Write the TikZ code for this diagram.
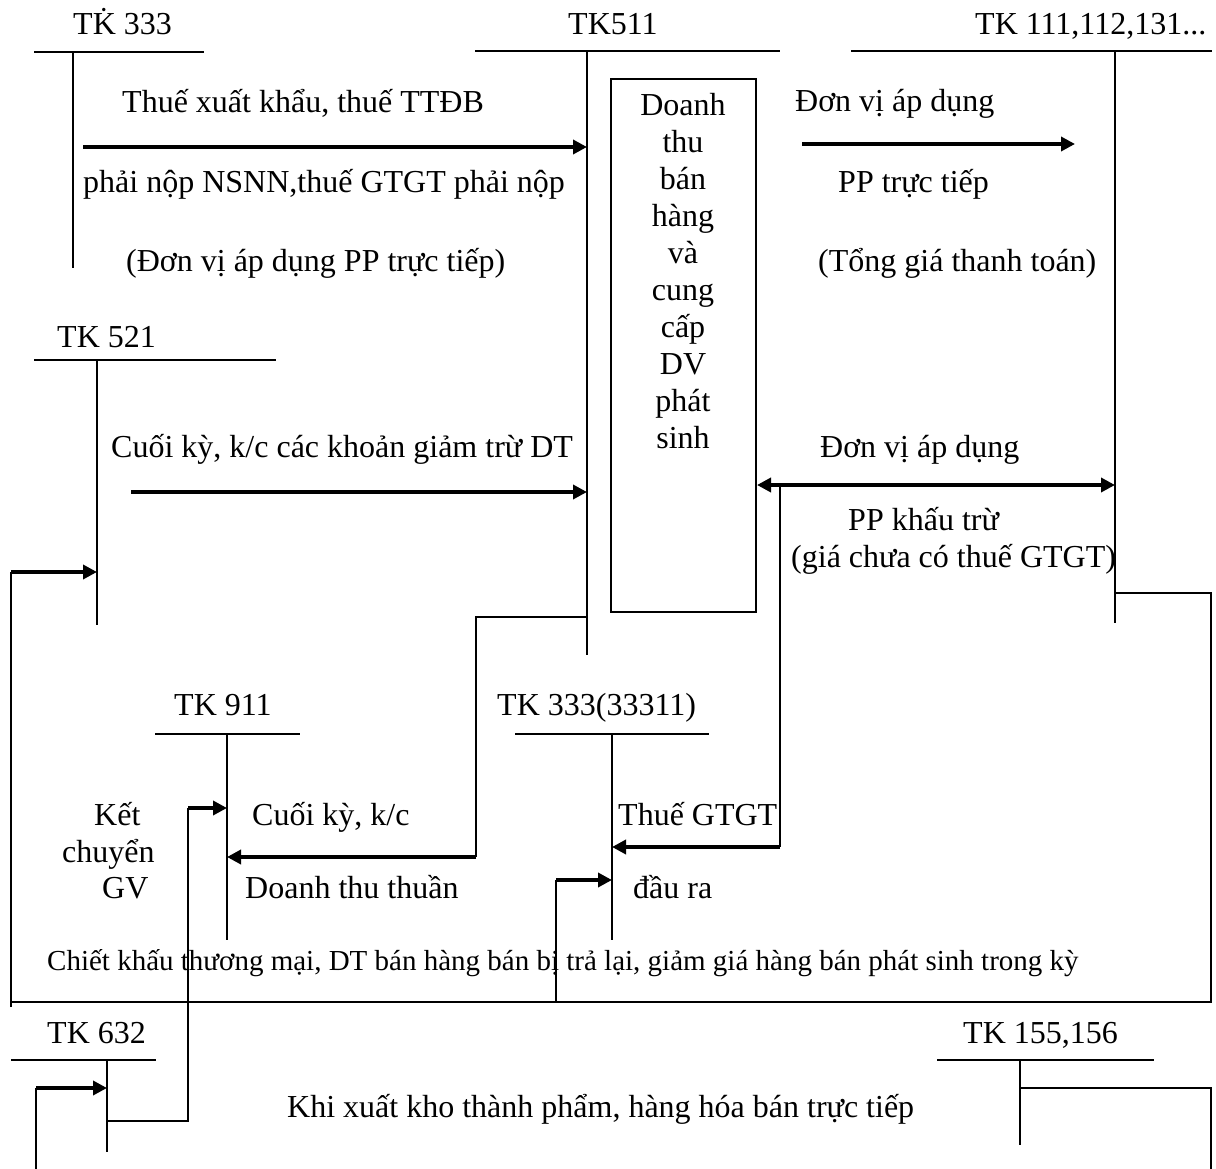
\documentclass[tikz,border=0pt]{standalone}
\usepackage{fontspec}
\setmainfont{Liberation Serif}
\usetikzlibrary{arrows.meta}
\begin{document}
\begin{tikzpicture}[x=1pt,y=-1pt,
  lbl/.style={anchor=base west, inner sep=0pt, font=\fontsize{32}{38}\selectfont},
  note/.style={anchor=base west, inner sep=0pt, font=\fontsize{29}{35}\selectfont},
  tacct/.style={line width=2.2pt},
  link/.style={line width=2.4pt},
  flow/.style={line width=3.6pt, -{Triangle[length=14pt,width=14pt]}},
  dflow/.style={line width=3.6pt, {Triangle[length=14pt,width=14pt]}-{Triangle[length=14pt,width=14pt]}},
  frame/.style={draw, line width=2.2pt}
]
\useasboundingbox (0,0) rectangle (1216,1169);

% ---- account titles ----
\node[lbl] (t333)   at (73,35)    {TK̇ 333};
\node[lbl] (t511)   at (568,35)   {TK511};
\node[lbl] (t111)   at (975,35)   {TK 111,112,131...};
\node[lbl] (t521)   at (57,347)   {TK 521};
\node[lbl] (t911)   at (174,715)  {TK 911};
\node[lbl] (t3331)  at (497,715)  {TK 333(33311)};
\node[lbl] (t632)   at (47,1043)  {TK 632};
\node[lbl] (t155)   at (963,1043) {TK 155,156};

% ---- T-account skeletons ----
\draw[tacct] (34,52) -- (204,52);   \draw[tacct] (73,52) -- (73,268);
\draw[tacct] (475,51) -- (780,51);  \draw[tacct] (587,51) -- (587,655);
\draw[tacct] (851,51) -- (1212,51); \draw[tacct] (1115,51) -- (1115,623);
\draw[tacct] (34,360) -- (276,360); \draw[tacct] (97,360) -- (97,625);
\draw[tacct] (155,734) -- (300,734); \draw[tacct] (227,734) -- (227,940);
\draw[tacct] (515,734) -- (709,734); \draw[tacct] (612,734) -- (612,940);
\draw[tacct] (11,1060) -- (156,1060); \draw[tacct] (107,1060) -- (107,1152);
\draw[tacct] (937,1060) -- (1154,1060); \draw[tacct] (1020,1060) -- (1020,1145);

% named anchor points on the account lines
\coordinate (a333)  at (83,147);   \coordinate (b511a) at (587,147);
\coordinate (a521)  at (131,492);  \coordinate (b511b) at (587,492);
\coordinate (b511c) at (587,617);
\coordinate (l111)  at (757,485);  \coordinate (r111)  at (1115,485);
\coordinate (in521) at (97,572);
\coordinate (in911) at (227,808);  \coordinate (k911)  at (227,857);
\coordinate (g3331) at (612,847);  \coordinate (d3331) at (612,880);
\coordinate (in632) at (107,1088); \coordinate (out632) at (107,1121);
\coordinate (o111)  at (1115,593);
\coordinate (o155)  at (1020,1088);

% ---- revenue box ----
\draw[frame] (611,79) rectangle (756,612);
\node[anchor=north, align=center, inner sep=0pt,
      font=\fontsize{32}{37}\selectfont] (box) at (683,93)
  {Doanh\\thu\\bán\\hàng\\và\\cung\\cấp\\DV\\phát\\sinh};

% ---- flows into TK511 ----
\draw[flow] (a333) -- (b511a);
\node[lbl] (x1) at (122,113) {Thuế xuất khẩu, thuế TTĐB};
\node[lbl] (x2) at (83,193)  {phải nộp NSNN,thuế GTGT phải nộp};
\node[lbl] (x3) at (126,272) {(Đơn vị áp dụng PP trực tiếp)};

\draw[flow] (a521) -- (b511b);
\node[lbl] (x4) at (111,457) {Cuối kỳ, k/c các khoản giảm trừ DT};

% ---- direct method ----
\coordinate (p1) at (802,144);
\coordinate (p2) at (1075,144);
\draw[flow] (p1) -- (p2);
\node[lbl] (x5) at (795,112) {Đơn vị áp dụng};
\node[lbl] (x6) at (838,193) {PP trực tiếp};
\node[lbl] (x7) at (818,272) {(Tổng giá thanh toán)};

% ---- deduction method ----
\draw[dflow] (l111) -- (r111);
\node[lbl] (x8) at (820,457) {Đơn vị áp dụng};
\node[lbl] (x9) at (848,530) {PP khấu trừ};
\node[lbl] (x10) at (791,567) {(giá chưa có thuế GTGT)};

% VAT output branch
\draw[link] (780,485) -- (780,847);
\draw[flow] (780,847) -- (g3331);
\node[lbl] (x11) at (618,825) {Thuế GTGT};
\node[lbl] (x12) at (633,898) {đầu ra};

% ---- net revenue to TK911 ----
\draw[link] (b511c) -- (476,617) -- (476,857);
\draw[flow] (476,857) -- (k911);
\node[lbl] (x13) at (252,825) {Cuối kỳ, k/c};
\node[lbl] (x14) at (245,898) {Doanh thu thuần};

% ---- cost of goods to TK911 ----
\draw[link] (out632) -- (188,1121) -- (188,808);
\draw[flow] (188,808) -- (in911);
\node[lbl] (x15) at (94,825)  {Kết};
\node[lbl] (x16) at (62,862)  {chuyển};
\node[lbl] (x17) at (102,898) {GV};

% ---- returns / discounts loop ----
\draw[link] (o111) -- (1211,593) -- (1211,1002) -- (11,1002);
\draw[link] (11,1007) -- (11,572);
\draw[flow] (11,572) -- (in521);
\draw[link] (556,1002) -- (556,880);
\draw[flow] (556,880) -- (d3331);
\node[note] (x18) at (47,970) {Chiết khấu thương mại, DT bán hàng bán bị trả lại, giảm giá hàng bán phát sinh trong kỳ};

% ---- direct sale from stock ----
\draw[link] (36,1169) -- (36,1088);
\draw[flow] (36,1088) -- (in632);
\draw[link] (o155) -- (1211,1088) -- (1211,1169);
\node[lbl] (x19) at (287,1117) {Khi xuất kho thành phẩm, hàng hóa bán trực tiếp};
\end{tikzpicture}
\end{document}
